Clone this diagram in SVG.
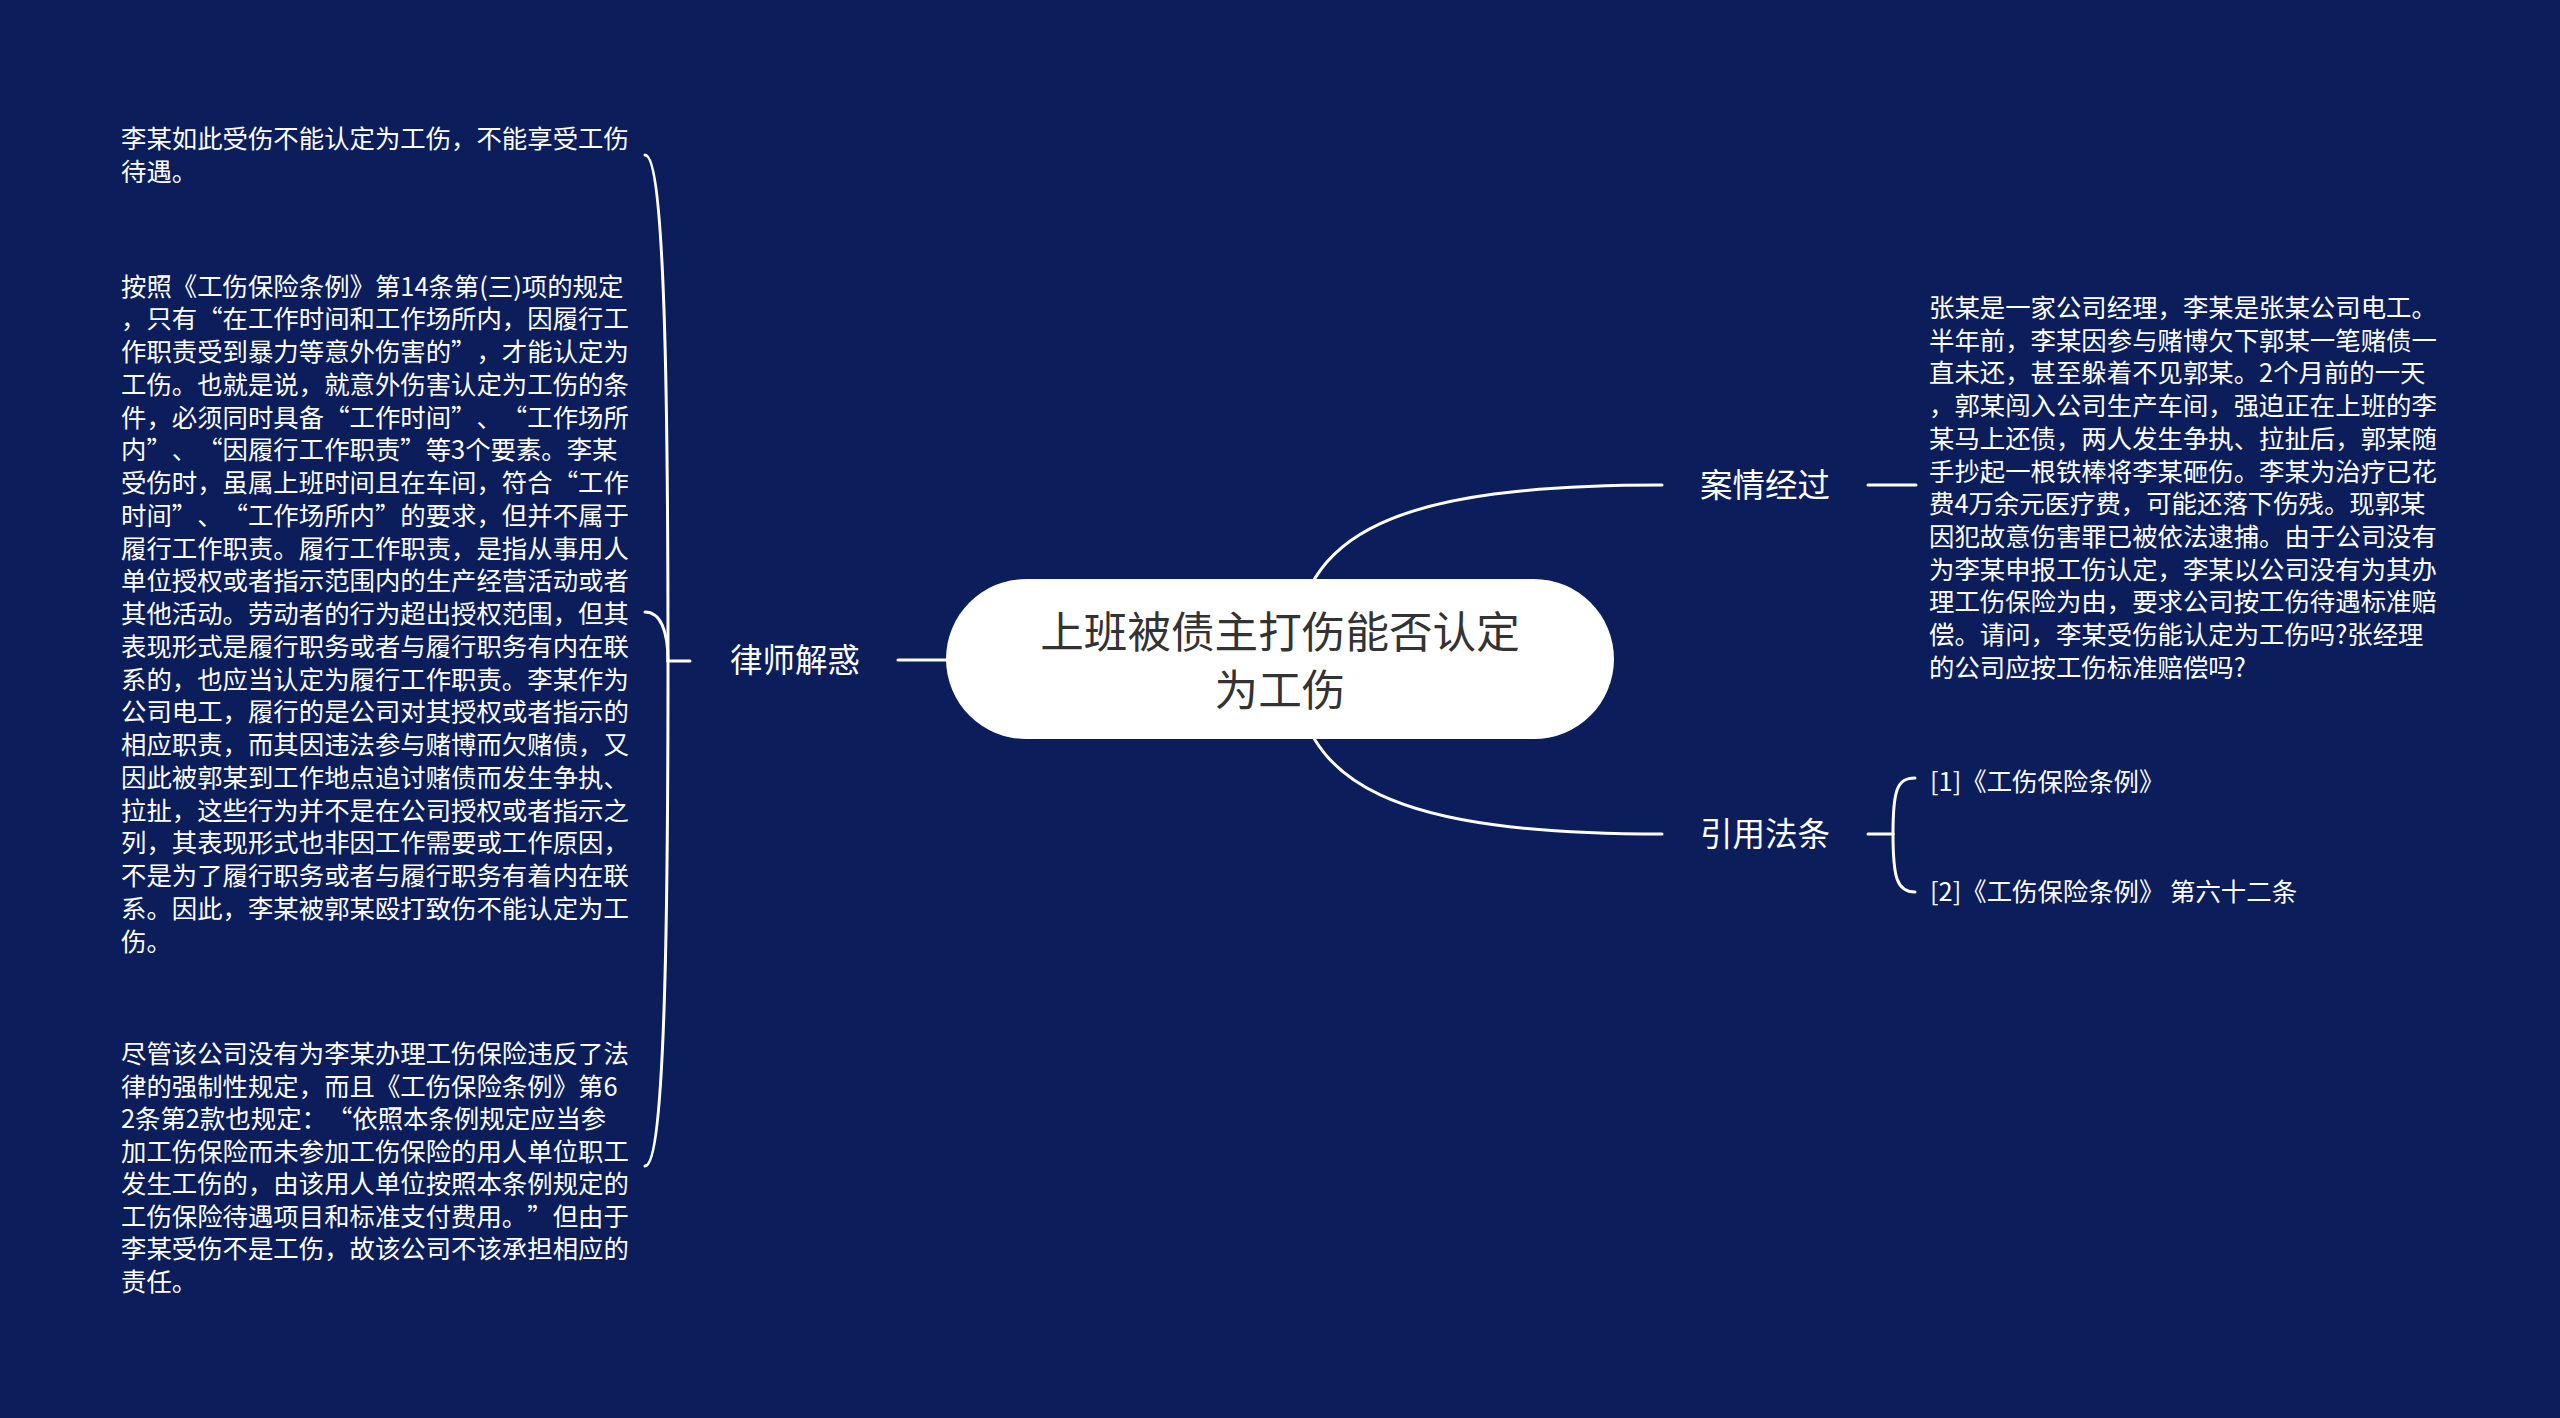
<svg xmlns="http://www.w3.org/2000/svg" width="2560" height="1418" viewBox="0 0 2560 1418">
<style>
.bg{fill:#0b1d5a}
.conn{fill:none;stroke:#ffffff;stroke-width:3;stroke-linecap:round}
.t{font-family:"Noto Sans CJK SC","Noto Sans",sans-serif;fill:#ffffff;font-size:25.4px;text-spacing-trim:space-all}
.br{font-family:"Noto Sans CJK SC","Noto Sans",sans-serif;fill:#ffffff;font-size:32.5px;text-anchor:middle}
.root{font-family:"Noto Sans CJK SC","Noto Sans",sans-serif;fill:#333333;font-size:43.6px;text-anchor:middle}
</style>
<rect class="bg" x="0" y="0" width="2560" height="1418"/>
<g id="connectors">
  <path class="conn" d="M1295 659 C1295 530 1400 485 1662 485"/>
  <path class="conn" d="M1295 659 C1295 788 1400 834 1662 834"/>
  <path class="conn" d="M898 660 L947 660"/>
  <path class="conn" d="M1868 485 L1916 485"/>
  <path class="conn" d="M1868 834 L1893 834"/>
  <path class="conn" d="M1893 834 C1893 790 1897 778 1915 778"/>
  <path class="conn" d="M1893 834 C1893 878 1897 892 1915 892"/>
  <path class="conn" d="M690 661 L668 661"/>
  <path class="conn" d="M668 661 C668 400 665 155 645 155"/>
  <path class="conn" d="M668 661 C668 630 660 612 645 612"/>
  <path class="conn" d="M668 661 C668 920 665 1166 645 1166"/>
</g>
<g id="root">
  <rect x="946" y="579" width="668" height="160" rx="80" ry="80" fill="#ffffff"/>
  <text class="root" x="1280" y="648">上班被债主打伤能否认定</text>
  <text class="root" x="1280" y="706">为工伤</text>
</g>
<g id="branch-case">
  <text class="br" x="1765" y="497">案情经过</text>
</g>
<g id="case-detail">
  <text class="t" x="1929" y="317">张某是一家公司经理，李某是张某公司电工。</text>
  <text class="t" x="1929" y="349.7">半年前，李某因参与赌博欠下郭某一笔赌债一</text>
  <text class="t" x="1929" y="382.4">直未还，甚至躲着不见郭某。2个月前的一天</text>
  <text class="t" x="1929" y="415.1">，郭某闯入公司生产车间，强迫正在上班的李</text>
  <text class="t" x="1929" y="447.8">某马上还债，两人发生争执、拉扯后，郭某随</text>
  <text class="t" x="1929" y="480.5">手抄起一根铁棒将李某砸伤。李某为治疗已花</text>
  <text class="t" x="1929" y="513.2">费4万余元医疗费，可能还落下伤残。现郭某</text>
  <text class="t" x="1929" y="545.9">因犯故意伤害罪已被依法逮捕。由于公司没有</text>
  <text class="t" x="1929" y="578.6">为李某申报工伤认定，李某以公司没有为其办</text>
  <text class="t" x="1929" y="611.3">理工伤保险为由，要求公司按工伤待遇标准赔</text>
  <text class="t" x="1929" y="644">偿。请问，李某受伤能认定为工伤吗?张经理</text>
  <text class="t" x="1929" y="676.7">的公司应按工伤标准赔偿吗?</text>
</g>
<g id="branch-law">
  <text class="br" x="1765" y="846">引用法条</text>
</g>
<g id="law-1">
  <text class="t" x="1930" y="791">[1]《工伤保险条例》</text>
</g>
<g id="law-2">
  <text class="t" x="1930" y="901">[2]《工伤保险条例》 第六十二条</text>
</g>
<g id="branch-lawyer">
  <text class="br" x="795" y="672">律师解惑</text>
</g>
<g id="lawyer-1">
  <text class="t" x="121" y="148">李某如此受伤不能认定为工伤，不能享受工伤</text>
  <text class="t" x="121" y="180.7">待遇。</text>
</g>
<g id="lawyer-2">
  <text class="t" x="121" y="295.5">按照《工伤保险条例》第14条第(三)项的规定</text>
  <text class="t" x="121" y="328.25">，只有“在工作时间和工作场所内，因履行工</text>
  <text class="t" x="121" y="361">作职责受到暴力等意外伤害的”，才能认定为</text>
  <text class="t" x="121" y="393.75">工伤。也就是说，就意外伤害认定为工伤的条</text>
  <text class="t" x="121" y="426.5">件，必须同时具备“工作时间”、“工作场所</text>
  <text class="t" x="121" y="459.25">内”、“因履行工作职责”等3个要素。李某</text>
  <text class="t" x="121" y="492">受伤时，虽属上班时间且在车间，符合“工作</text>
  <text class="t" x="121" y="524.75">时间”、“工作场所内”的要求，但并不属于</text>
  <text class="t" x="121" y="557.5">履行工作职责。履行工作职责，是指从事用人</text>
  <text class="t" x="121" y="590.25">单位授权或者指示范围内的生产经营活动或者</text>
  <text class="t" x="121" y="623">其他活动。劳动者的行为超出授权范围，但其</text>
  <text class="t" x="121" y="655.75">表现形式是履行职务或者与履行职务有内在联</text>
  <text class="t" x="121" y="688.5">系的，也应当认定为履行工作职责。李某作为</text>
  <text class="t" x="121" y="721.25">公司电工，履行的是公司对其授权或者指示的</text>
  <text class="t" x="121" y="754">相应职责，而其因违法参与赌博而欠赌债，又</text>
  <text class="t" x="121" y="786.75">因此被郭某到工作地点追讨赌债而发生争执、</text>
  <text class="t" x="121" y="819.5">拉扯，这些行为并不是在公司授权或者指示之</text>
  <text class="t" x="121" y="852.25">列，其表现形式也非因工作需要或工作原因，</text>
  <text class="t" x="121" y="885">不是为了履行职务或者与履行职务有着内在联</text>
  <text class="t" x="121" y="917.75">系。因此，李某被郭某殴打致伤不能认定为工</text>
  <text class="t" x="121" y="950.5">伤。</text>
</g>
<g id="lawyer-3">
  <text class="t" x="121" y="1063">尽管该公司没有为李某办理工伤保险违反了法</text>
  <text class="t" x="121" y="1095.5">律的强制性规定，而且《工伤保险条例》第6</text>
  <text class="t" x="121" y="1128">2条第2款也规定：“依照本条例规定应当参</text>
  <text class="t" x="121" y="1160.5">加工伤保险而未参加工伤保险的用人单位职工</text>
  <text class="t" x="121" y="1193">发生工伤的，由该用人单位按照本条例规定的</text>
  <text class="t" x="121" y="1225.5">工伤保险待遇项目和标准支付费用。”但由于</text>
  <text class="t" x="121" y="1258">李某受伤不是工伤，故该公司不该承担相应的</text>
  <text class="t" x="121" y="1290.5">责任。</text>
</g>
</svg>
